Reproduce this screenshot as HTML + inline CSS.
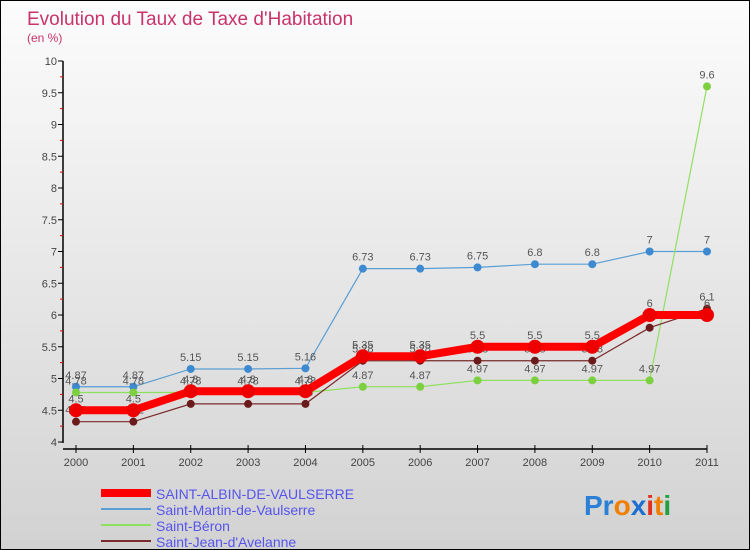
<!DOCTYPE html>
<html><head><meta charset="utf-8"><style>
body{margin:0}
#c{width:750px;height:550px;position:relative;box-sizing:border-box;border:1px solid #000;background:linear-gradient(#fcfcfc,#d2d2d2);font-family:"Liberation Sans",sans-serif;overflow:hidden}
</style></head><body>
<div id="c">
<svg id="s" width="750" height="550" style="position:absolute;left:0;top:0">
<text x="26" y="24" font-size="19" fill="#c8336a">Evolution du Taux de Taxe d'Habitation</text>
<text x="26" y="41" font-size="12" fill="#c8336a">(en %)</text>
<g id="ax"></g><g id="ser"></g><g id="leg"></g>
<text x="583" y="514" font-size="28" font-weight="bold"><tspan fill="#2b7fd4">Pr</tspan><tspan fill="#f07f00">o</tspan><tspan fill="#1e6fd0">x</tspan><tspan fill="#e03020">i</tspan><tspan fill="#f07f00">t</tspan><tspan fill="#20a040">i</tspan></text>
</svg>
</div>
<script>
const years=[2000,2001,2002,2003,2004,2005,2006,2007,2008,2009,2010,2011];
const yTicks=[4,4.5,5,5.5,6,6.5,7,7.5,8,8.5,9,9.5,10];
const albin=[4.5,4.5,4.8,4.8,4.8,5.35,5.35,5.5,5.5,5.5,6,6];
const martin=[4.87,4.87,5.15,5.15,5.16,6.73,6.73,6.75,6.8,6.8,7,7];
const beron=[4.78,4.78,4.78,4.78,4.78,4.87,4.87,4.97,4.97,4.97,4.97,9.6];
const jean=[4.32,4.32,4.6,4.6,4.6,5.28,5.28,5.28,5.28,5.28,5.8,6.1];
const names=["SAINT-ALBIN-DE-VAULSERRE","Saint-Martin-de-Vaulserre","Saint-Béron","Saint-Jean-d'Avelanne"];
const NS="http://www.w3.org/2000/svg";
const X=i=>75+i*(706-75)/11;
const Y=v=>441-(v-4)*(441-60)/6;
function mk(p,t,a){const e=document.createElementNS(NS,t);for(const k in a)e.setAttribute(k,a[k]);p.appendChild(e);return e;}
const ax=document.getElementById('ax');
mk(ax,'line',{x1:62,y1:60,x2:62,y2:442,stroke:'#000','stroke-width':1.5});
mk(ax,'line',{x1:62,y1:448,x2:706,y2:448,stroke:'#000','stroke-width':1.5});
yTicks.forEach(v=>{const y=Y(v);
 const l=mk(ax,'line',{x1:57,y1:y,x2:62,y2:y,stroke:'#000'});
 
 
 const m=mk(ax,'line',{x1:59,y1:Y(v+0.25),x2:62,y2:Y(v+0.25),stroke:'#e00'});
 if(v==10)m.remove();
 const t=mk(ax,'text',{x:56,y:y+4,'text-anchor':'end','font-size':11,fill:'#444'});t.textContent=v;
 
 });
years.forEach((yr,i)=>{const x=X(i);
 mk(ax,'line',{x1:x,y1:444,x2:x,y2:452,stroke:'#000'});
 const t=mk(ax,'text',{x:x,y:465,'text-anchor':'middle','font-size':11,fill:'#444'});t.textContent=yr;
 
 });
const ser=document.getElementById('ser');
const defs=[[martin,'#5a9fd4',1.2,'#3d8ad0',4],[beron,'#90e060',1.2,'#7cd040',4],[jean,'#7a2a2a',1.2,'#6a1a1a',4],[albin,'#ff0000',8,'#ee0000',7]];
const order=[1,2,3,0];
defs.forEach((d,k)=>{const [vals,col,w,pc,r]=d;
 const g=mk(ser,'g',{});
 
 
 const pl=mk(g,'polyline',{points:vals.map((v,i)=>X(i)+','+Y(v)).join(' '),fill:'none',stroke:col,'stroke-width':w});
 vals.forEach((v,i)=>{const c=mk(g,'circle',{cx:X(i),cy:Y(v),r:r,fill:pc});
  
  
  const t=mk(g,'text',{x:X(i),y:Y(v)-8,'text-anchor':'middle','font-size':11,fill:'#555'});t.textContent=v;});
});
const leg=document.getElementById('leg');
const lc=[['#ff0000',8],['#5a9fd4',2],['#90e060',2],['#7a2a2a',2]];
names.forEach((n,i)=>{const y=492+i*16;
 const g=mk(leg,'g',{});
 
 
 mk(g,'line',{x1:100,y1:y,x2:150,y2:y,stroke:lc[i][0],'stroke-width':lc[i][1]});
 const t=mk(g,'text',{x:155,y:y+6,'font-size':14,fill:'#5555ee'});t.textContent=n;});
</script>
</body></html>
